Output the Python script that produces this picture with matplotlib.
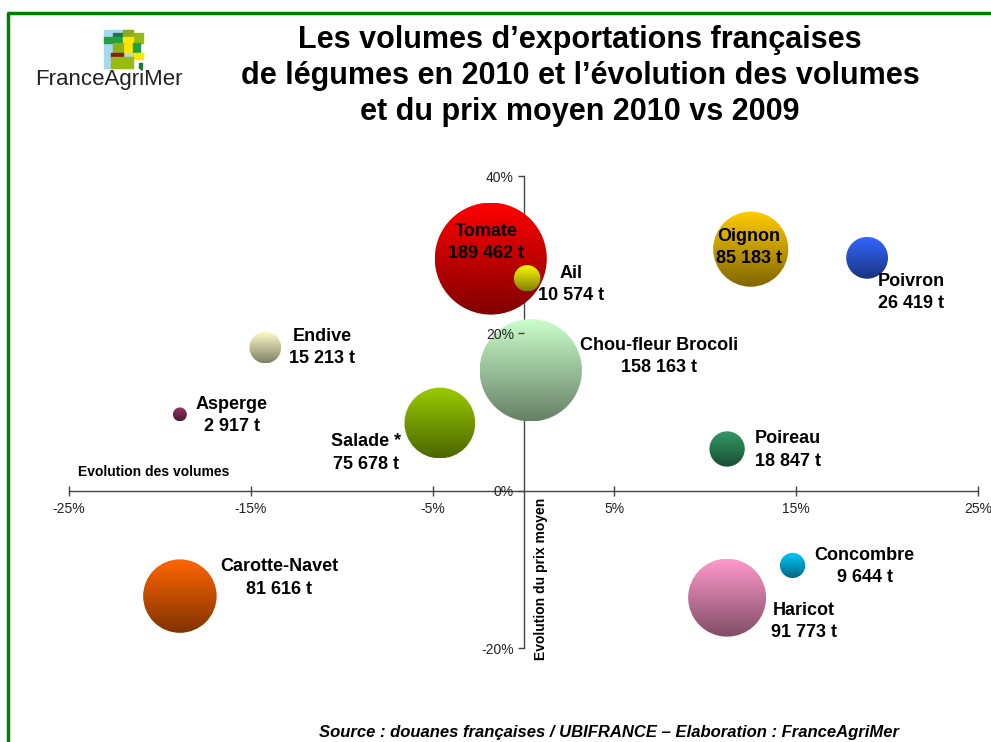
import numpy as np
import matplotlib
matplotlib.use("Agg")
import matplotlib.pyplot as plt
from matplotlib.patches import Ellipse, Rectangle
from matplotlib.lines import Line2D
from matplotlib.colors import LinearSegmentedColormap
from matplotlib.transforms import offset_copy

plt.rcParams['font.family'] = ['Liberation Sans', 'DejaVu Sans']

# Données (volumes en tonnes, évolutions en % 2010 vs 2009)
legumes = ['Tomate', 'Ail', 'Oignon', 'Poivron', 'Endive', 'Chou-fleur Brocoli',
           'Asperge', 'Salade *', 'Poireau', 'Carotte-Navet', 'Concombre', 'Haricot']
volumes = [189462, 10574, 85183, 26419, 15213, 158163, 2917, 75678, 18847, 81616, 9644, 91773]
evol_volumes = [-1.8, 0.2, 12.5, 18.9, -14.2, 0.4, -18.9, -4.6, 11.2, -18.9, 14.8, 11.2]
evol_prix = [29.5, 27.0, 30.7, 29.6, 18.2, 15.3, 9.7, 8.6, 5.3, -13.4, -9.5, -13.6]

couleurs_haut = ['#ff0000', '#ffff00', '#ffcc00', '#3366ff', '#ffffcc', '#ccffcc',
                 '#993366', '#99cc00', '#339966', '#ff6600', '#00ccff', '#ff99cc']
couleurs_bas = ['#800000', '#808000', '#806600', '#1a3380', '#808066', '#668066',
                '#4d1a33', '#4d6600', '#1a4d33', '#803300', '#006680', '#804d66']

# décalage des étiquettes (pixels) par rapport au centre de la bulle
decalages = [(-5, 16), (44, -6), (-2, 2), (44, -35), (57, 0), (128, 14),
             (52, -1), (-74, -30), (61, -1), (99, 18), (72, -1), (77, -24)]

x_ticks = [-25, -15, -5, 5, 15, 25]
y_ticks = [-20, 0, 20, 40]

W, H = 991, 742


def fx(px):
    return px / W


def fy(py):
    return 1 - py / H


fig = plt.figure(figsize=(W / 100, H / 100), dpi=100)
ax = fig.add_axes([fx(69), fy(648), 909 / W, 472 / H])
ax.set_xlim(-25, 25)
ax.set_ylim(-20, 40)

for s in ['top', 'right']:
    ax.spines[s].set_visible(False)
ax.spines['left'].set_position('zero')
ax.spines['bottom'].set_position('zero')
for s in ['left', 'bottom']:
    ax.spines[s].set_color('#444444')
    ax.spines[s].set_linewidth(1)

ax.set_xticks(x_ticks)
ax.set_xticklabels([f"{t}%" for t in x_ticks])
ax.set_yticks(y_ticks)
ax.set_yticklabels([f"{t}%" for t in y_ticks])
ax.tick_params(axis='x', direction='inout', length=7, width=1, color='#444444',
               labelsize=10, pad=5, labelcolor='#222222')
ax.tick_params(axis='y', direction='out', length=4, width=1, color='#444444',
               labelsize=10, pad=3, labelcolor='#222222')
ax.yaxis.set_zorder(4)
ax.patch.set_visible(False)

# échelle pixels -> données
px_x = 909 / 50.0
px_y = 472 / 60.0
k = 56 / np.sqrt(189462)

grad = np.linspace(1, 0, 256).reshape(-1, 1)

for i, nom in enumerate(legumes):
    x, y, v = evol_volumes[i], evol_prix[i], volumes[i]
    r = k * np.sqrt(v)
    w, h = 2 * r / px_x, 2 * r / px_y
    ell = Ellipse((x, y), w, h, facecolor='none', edgecolor='none')
    ax.add_patch(ell)
    cmap = LinearSegmentedColormap.from_list(nom, [couleurs_bas[i], couleurs_haut[i]])
    im = ax.imshow(grad, cmap=cmap, extent=[x - w / 2, x + w / 2, y - h / 2, y + h / 2],
                   aspect='auto', zorder=3, interpolation='bilinear')
    im.set_clip_path(ell)

    dx, dy = decalages[i]
    tr = offset_copy(ax.transData, fig=fig, x=dx, y=dy, units='dots')
    label = f"{nom}\n{v:,} t".replace(',', ' ')
    ax.text(x, y, label, transform=tr, ha='center', va='center', multialignment='center',
            fontsize=13, fontweight='bold', color='black', linespacing=1.4, zorder=5)

ax.set_xlim(-25, 25)
ax.set_ylim(-20, 40)

# titres des axes
fig.text(fx(154), fy(472), 'Evolution des volumes', fontsize=10, fontweight='bold',
         ha='center', va='center')
fig.text(fx(541), fy(579), 'Evolution du prix moyen', fontsize=10, fontweight='bold',
         ha='center', va='center', rotation=90)

# titre
fig.text(fx(580), fy(76), "Les volumes d’exportations françaises\n"
         "de légumes en 2010 et l’évolution des volumes\n"
         "et du prix moyen 2010 vs 2009",
         fontsize=22, fontweight='bold', ha='center', va='center', linespacing=1.26)

# source
fig.text(fx(609), fy(733), 'Source : douanes françaises / UBIFRANCE – Elaboration : FranceAgriMer',
         fontsize=12, fontweight='bold', style='italic', ha='center', va='center')

# logo FranceAgriMer
logo = [
    (104, 30, 29, 38, '#a8d8ee'),
    (113, 33, 10, 4, '#1a7a3a'),
    (123, 30, 10, 7, '#8daa1b'),
    (104, 37, 19, 6, '#22a040'),
    (133, 33, 10, 10, '#99bb11'),
    (123, 37, 10, 16, '#ffe600'),
    (133, 43, 7, 10, '#22a040'),
    (113, 43, 10, 10, '#8db31a'),
    (111, 53, 12, 4, '#8b1a1a'),
    (133, 53, 10, 6, '#ffe600'),
    (111, 57, 22, 11, '#99bb11'),
    (139, 63, 3, 5, '#1a7a3a'),
]
for x0, y0, w0, h0, c in logo:
    fig.patches.append(Rectangle((fx(x0), fy(y0 + h0)), w0 / W, h0 / H, color=c,
                                 transform=fig.transFigure, figure=fig))
fig.text(fx(109), fy(80), 'FranceAgriMer', fontsize=16, color='#222222',
         family=['Liberation Sans Narrow', 'DejaVu Sans Condensed', 'Liberation Sans'],
         ha='center', va='center')

# cadre vert
fig.add_artist(Line2D([fx(8), fx(8), 1], [0, fy(13), fy(13)], color='green', lw=2.5,
                      transform=fig.transFigure))

fig.savefig('out.png', dpi=100)
